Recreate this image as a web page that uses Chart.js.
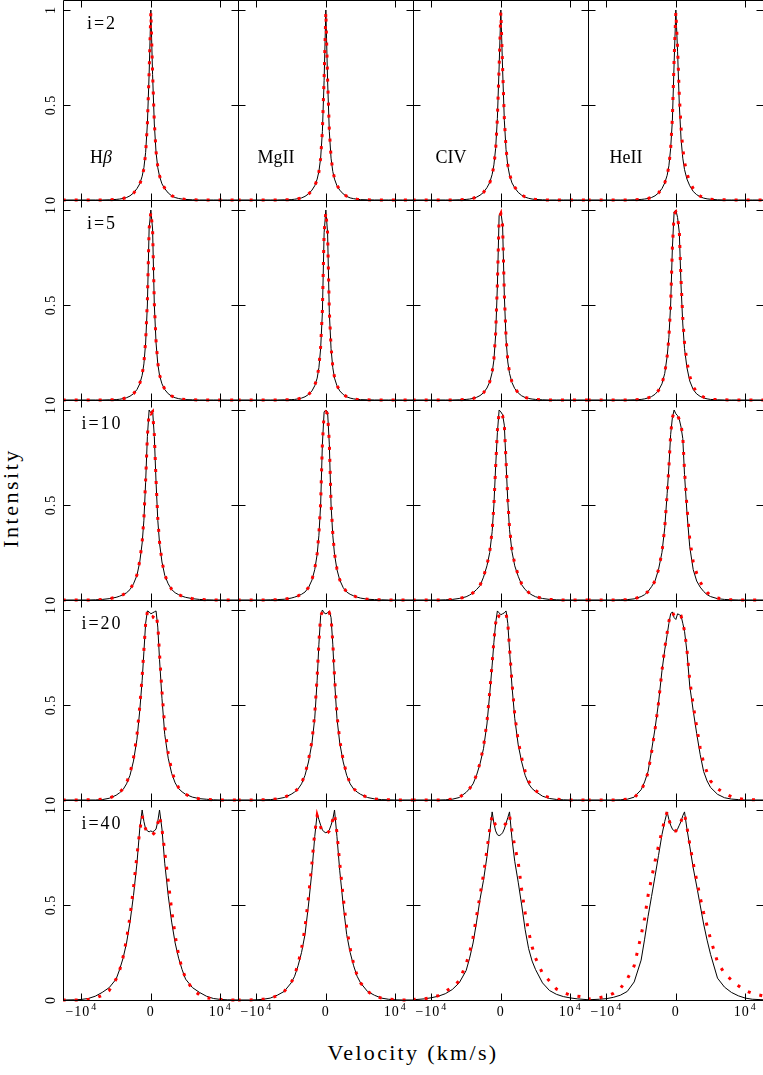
<!DOCTYPE html>
<html>
<head>
<meta charset="utf-8">
<script src="https://cdn.jsdelivr.net/npm/chart.js@4.4.1/dist/chart.umd.min.js"></script>
<style>
  body { margin:0; background:#fff; width:763px; height:1075px; position:relative; overflow:hidden; font-family:"Liberation Serif", serif; color:#000; }
  canvas { position:absolute; }
  #ylab { position:absolute; left:11px; top:498px; transform:translate(-50%,-50%) rotate(-90deg); font-size:22px; letter-spacing:2.5px; white-space:nowrap; }
  #xlab { position:absolute; left:413px; top:1053px; transform:translate(-50%,-50%); font-size:22px; letter-spacing:2.3px; white-space:nowrap; }
</style>
</head>
<body>
<div id="ylab">Intensity</div>
<div id="xlab">Velocity (km/s)</div>
<script>
// velocity grid (km/s), shared by every panel
const V = [-12700,-11000,-10000,-9000,-8000,-7000,-6000,-5000,-4500,-4000,-3500,-3000,-2500,-2000,-1600,-1250,-1000,-750,-500,-250,0,250,500,750,1000,1250,1600,2000,2500,3000,3500,4000,4500,5000,6000,7000,8000,9000,10000,11000,12700]

const lines = ['H', 'MgII', 'CIV', 'HeII']
const incl = [2, 5, 10, 20, 40]
const xTicks = [-10000, 0, 10000]
const yTicks = [0, 0.5, 1]
const yTickText = ['0', '0.5', '1']

// i=2
const hb2  = [0,0,0,0,0,0,0.001,0.003,0.005,0.008,0.013,0.022,0.037,0.06,0.085,0.125,0.17,0.25,0.4,0.66,1.0,0.66,0.4,0.25,0.17,0.125,0.085,0.06,0.037,0.022,0.013,0.008,0.005,0.003,0.001,0,0,0,0,0,0]
const hb2r = [0,0,0,0,0,0,0.001,0.003,0.005,0.008,0.013,0.022,0.036,0.058,0.083,0.12,0.165,0.245,0.4,0.67,0.99,0.67,0.41,0.255,0.175,0.128,0.088,0.062,0.038,0.023,0.014,0.008,0.005,0.003,0.001,0,0,0,0,0,0]
const mg2  = [0,0,0,0,0,0,0.001,0.002,0.004,0.007,0.011,0.019,0.032,0.052,0.075,0.11,0.15,0.22,0.36,0.63,1.0,0.63,0.36,0.22,0.15,0.11,0.075,0.052,0.032,0.019,0.011,0.007,0.004,0.002,0.001,0,0,0,0,0,0]
const mg2r = [0,0,0,0,0,0,0.001,0.002,0.004,0.007,0.011,0.019,0.031,0.05,0.073,0.108,0.148,0.22,0.36,0.64,0.99,0.64,0.37,0.225,0.155,0.113,0.078,0.054,0.033,0.02,0.012,0.007,0.004,0.002,0.001,0,0,0,0,0,0]
const c2   = [0,0,0,0,0,0,0.001,0.003,0.005,0.009,0.015,0.025,0.04,0.065,0.092,0.135,0.185,0.27,0.43,0.7,1.0,0.69,0.42,0.265,0.18,0.132,0.09,0.064,0.04,0.025,0.015,0.009,0.005,0.003,0.001,0,0,0,0,0,0]
const c2r  = [0,0,0,0,0,0,0.001,0.003,0.005,0.009,0.015,0.025,0.04,0.064,0.09,0.132,0.182,0.265,0.43,0.7,0.99,0.7,0.43,0.27,0.185,0.137,0.095,0.068,0.043,0.027,0.016,0.01,0.006,0.003,0.001,0,0,0,0,0,0]
const he2  = [0,0,0,0,0,0,0.001,0.003,0.005,0.008,0.013,0.022,0.037,0.06,0.09,0.13,0.18,0.27,0.42,0.72,1.0,0.78,0.5,0.32,0.22,0.16,0.11,0.075,0.045,0.028,0.017,0.01,0.006,0.004,0.001,0,0,0,0,0,0]
const he2r = [0,0,0,0,0,0,0.001,0.003,0.005,0.008,0.013,0.022,0.037,0.06,0.09,0.13,0.18,0.27,0.43,0.74,0.99,0.8,0.55,0.38,0.27,0.2,0.14,0.095,0.06,0.035,0.02,0.012,0.007,0.004,0.002,0.001,0,0,0,0,0]

// i=5
const hb5  = [0,0,0,0,0,0,0.001,0.002,0.004,0.007,0.012,0.02,0.033,0.055,0.085,0.13,0.19,0.3,0.5,0.9,1.0,0.9,0.5,0.3,0.19,0.13,0.085,0.055,0.033,0.02,0.012,0.007,0.004,0.002,0.001,0,0,0,0,0,0]
const hb5r = [0,0,0,0,0,0,0.001,0.002,0.004,0.007,0.012,0.02,0.033,0.056,0.087,0.133,0.195,0.31,0.52,0.9,0.99,0.9,0.51,0.31,0.195,0.133,0.088,0.057,0.034,0.021,0.012,0.007,0.004,0.002,0.001,0,0,0,0,0,0]
const mg5  = [0,0,0,0,0,0,0.001,0.002,0.003,0.006,0.01,0.017,0.029,0.048,0.075,0.115,0.17,0.27,0.46,0.88,1.0,0.88,0.46,0.27,0.17,0.115,0.075,0.048,0.029,0.017,0.01,0.006,0.003,0.002,0.001,0,0,0,0,0,0]
const mg5r = [0,0,0,0,0,0,0.001,0.002,0.003,0.006,0.01,0.017,0.029,0.049,0.077,0.118,0.175,0.28,0.47,0.88,0.99,0.88,0.47,0.28,0.175,0.118,0.077,0.049,0.03,0.018,0.01,0.006,0.003,0.002,0.001,0,0,0,0,0,0]
const c5   = [0,0,0,0,0,0,0.001,0.003,0.005,0.008,0.014,0.023,0.038,0.063,0.095,0.145,0.21,0.34,0.6,0.97,0.99,0.92,0.55,0.32,0.2,0.14,0.092,0.06,0.037,0.022,0.013,0.008,0.005,0.003,0.001,0,0,0,0,0,0]
const c5r  = [0,0,0,0,0,0,0.001,0.003,0.005,0.008,0.014,0.023,0.038,0.063,0.096,0.147,0.215,0.35,0.61,0.96,0.98,0.92,0.56,0.33,0.205,0.145,0.095,0.062,0.038,0.023,0.014,0.008,0.005,0.003,0.001,0,0,0,0,0,0]
const he5  = [0,0,0,0,0,0,0.001,0.003,0.006,0.011,0.018,0.03,0.05,0.085,0.14,0.23,0.33,0.5,0.8,0.99,1.0,0.96,0.88,0.6,0.4,0.27,0.17,0.1,0.055,0.032,0.019,0.011,0.006,0.003,0.001,0,0,0,0,0,0]
const he5r = [0,0,0,0,0,0,0.001,0.003,0.006,0.011,0.018,0.03,0.05,0.085,0.14,0.23,0.33,0.5,0.8,0.98,0.99,0.96,0.89,0.63,0.43,0.3,0.2,0.125,0.07,0.042,0.025,0.015,0.008,0.004,0.002,0.001,0,0,0,0,0]

// i=10
const hb10  = [0,0,0,0,0.001,0.003,0.007,0.014,0.02,0.028,0.038,0.055,0.085,0.13,0.2,0.3,0.42,0.62,0.86,1.0,0.985,1.0,0.86,0.62,0.42,0.3,0.2,0.13,0.085,0.055,0.038,0.028,0.02,0.014,0.007,0.003,0.001,0,0,0,0]
const hb10r = [0,0,0,0,0.001,0.003,0.007,0.014,0.02,0.028,0.038,0.056,0.087,0.133,0.205,0.305,0.43,0.63,0.86,0.99,0.98,0.99,0.87,0.63,0.43,0.305,0.205,0.133,0.087,0.056,0.039,0.028,0.02,0.014,0.007,0.003,0.001,0,0,0,0]
const mg10  = [0,0,0,0,0.001,0.002,0.004,0.01,0.015,0.022,0.03,0.042,0.065,0.105,0.16,0.24,0.34,0.5,0.82,0.99,1.0,0.99,0.82,0.5,0.34,0.24,0.16,0.105,0.065,0.042,0.03,0.022,0.015,0.01,0.004,0.002,0.001,0,0,0,0]
const mg10r = [0,0,0,0,0.001,0.002,0.004,0.01,0.015,0.022,0.03,0.043,0.066,0.107,0.163,0.245,0.35,0.51,0.82,0.98,0.99,0.98,0.83,0.51,0.35,0.245,0.163,0.107,0.066,0.043,0.03,0.022,0.015,0.01,0.004,0.002,0.001,0,0,0,0]
const c10   = [0,0,0,0,0.001,0.003,0.008,0.017,0.026,0.038,0.055,0.075,0.12,0.18,0.25,0.36,0.5,0.7,0.88,1.0,0.99,0.975,0.92,0.72,0.52,0.37,0.255,0.18,0.125,0.08,0.055,0.038,0.026,0.017,0.008,0.003,0.001,0,0,0,0]
const c10r  = [0,0,0,0,0.001,0.003,0.008,0.017,0.026,0.038,0.055,0.077,0.122,0.183,0.255,0.365,0.5,0.7,0.89,0.99,0.98,0.97,0.92,0.73,0.53,0.38,0.265,0.19,0.13,0.085,0.058,0.04,0.027,0.018,0.008,0.003,0.001,0,0,0,0]
const he10  = [0,0,0,0,0.001,0.002,0.006,0.018,0.028,0.045,0.07,0.1,0.16,0.25,0.38,0.56,0.7,0.87,0.96,1.0,0.98,0.97,0.95,0.91,0.85,0.66,0.46,0.28,0.16,0.1,0.068,0.045,0.028,0.018,0.007,0.003,0.001,0,0,0,0]
const he10r = [0,0,0,0,0.001,0.002,0.006,0.018,0.028,0.045,0.07,0.1,0.16,0.25,0.38,0.56,0.7,0.87,0.96,0.99,0.98,0.97,0.95,0.92,0.86,0.68,0.49,0.32,0.2,0.14,0.095,0.065,0.04,0.025,0.01,0.004,0.001,0,0,0,0]

// i=20
const hb20  = [0,0,0,0,0,0.002,0.009,0.025,0.038,0.055,0.085,0.13,0.205,0.32,0.47,0.63,0.78,0.93,0.995,0.99,0.98,0.985,0.99,0.995,0.91,0.74,0.535,0.345,0.22,0.14,0.09,0.06,0.043,0.03,0.015,0.007,0.004,0.001,0,0,0]
const hb20r = [0,0,0,0.001,0.002,0.004,0.01,0.025,0.04,0.06,0.09,0.14,0.22,0.34,0.49,0.65,0.79,0.93,0.99,0.97,0.955,0.96,0.975,0.98,0.92,0.77,0.57,0.385,0.245,0.155,0.1,0.065,0.045,0.03,0.014,0.006,0.003,0.001,0,0,0]
const mg20  = [0,0,0,0.001,0.002,0.006,0.013,0.03,0.042,0.058,0.085,0.13,0.2,0.3,0.43,0.63,0.82,0.97,1.0,0.985,0.98,0.985,0.995,0.96,0.82,0.63,0.43,0.3,0.2,0.13,0.085,0.058,0.042,0.03,0.013,0.006,0.002,0.001,0,0,0]
const mg20r = [0,0,0,0.001,0.002,0.006,0.013,0.031,0.044,0.06,0.088,0.135,0.21,0.31,0.45,0.65,0.83,0.97,0.99,0.975,0.97,0.975,0.985,0.96,0.83,0.65,0.45,0.315,0.21,0.135,0.088,0.06,0.043,0.03,0.013,0.006,0.002,0.001,0,0,0]
const c20   = [0,0,0,0,0.001,0.004,0.013,0.04,0.06,0.085,0.13,0.19,0.27,0.4,0.56,0.71,0.83,0.93,0.995,0.985,0.975,0.98,0.985,0.995,0.93,0.79,0.6,0.43,0.29,0.2,0.13,0.085,0.06,0.045,0.02,0.008,0.003,0.001,0,0,0]
const c20r  = [0,0,0,0,0.001,0.004,0.013,0.04,0.06,0.087,0.133,0.195,0.28,0.41,0.57,0.72,0.84,0.93,0.98,0.965,0.96,0.96,0.97,0.98,0.93,0.8,0.62,0.45,0.31,0.22,0.15,0.1,0.07,0.05,0.025,0.012,0.005,0.002,0,0,0]
const he20  = [0,0,0,0,0.001,0.004,0.015,0.054,0.095,0.15,0.26,0.375,0.51,0.68,0.79,0.87,0.93,0.98,0.99,0.96,0.95,0.98,0.975,0.97,0.93,0.888,0.78,0.6,0.47,0.35,0.24,0.15,0.1,0.066,0.03,0.012,0.005,0.002,0,0,0]
const he20r = [0,0,0,0,0.001,0.004,0.012,0.05,0.09,0.145,0.25,0.37,0.51,0.68,0.8,0.88,0.94,0.98,0.99,0.97,0.96,0.97,0.975,0.97,0.93,0.89,0.79,0.63,0.5,0.385,0.275,0.195,0.145,0.1,0.06,0.035,0.018,0.008,0.003,0.001,0]

// i=40
const hb40  = [0,0.001,0.003,0.008,0.02,0.04,0.065,0.11,0.16,0.22,0.3,0.41,0.55,0.72,0.9,1.0,0.94,0.9,0.89,0.885,0.89,0.885,0.89,0.9,0.94,1.0,0.9,0.72,0.55,0.41,0.3,0.22,0.16,0.11,0.065,0.04,0.02,0.008,0.003,0.001,0]
const hb40r = [0,0,0.001,0.003,0.009,0.025,0.05,0.11,0.155,0.225,0.32,0.44,0.59,0.76,0.89,0.97,0.93,0.9,0.88,0.87,0.87,0.87,0.88,0.9,0.93,0.97,0.9,0.78,0.627,0.473,0.34,0.235,0.165,0.115,0.055,0.027,0.012,0.006,0.003,0.001,0]
const mg40  = [0,0,0.001,0.004,0.01,0.025,0.045,0.09,0.125,0.18,0.25,0.345,0.5,0.68,0.86,0.98,0.95,0.92,0.895,0.885,0.88,0.885,0.895,0.92,0.95,1.0,0.86,0.68,0.5,0.345,0.25,0.18,0.125,0.09,0.045,0.025,0.01,0.004,0.001,0,0]
const mg40r = [0,0,0.002,0.004,0.01,0.022,0.045,0.09,0.13,0.19,0.27,0.38,0.54,0.72,0.88,0.97,0.94,0.91,0.885,0.88,0.875,0.88,0.89,0.91,0.95,0.98,0.88,0.72,0.54,0.38,0.27,0.19,0.13,0.09,0.045,0.022,0.01,0.004,0.002,0,0]
const c40   = [0.001,0.006,0.012,0.02,0.033,0.055,0.09,0.155,0.22,0.3,0.41,0.53,0.63,0.755,0.88,0.99,0.93,0.89,0.87,0.865,0.87,0.88,0.9,0.93,0.96,0.99,0.85,0.73,0.62,0.5,0.37,0.27,0.205,0.16,0.09,0.05,0.03,0.018,0.011,0.006,0.001]
const c40r  = [0.003,0.007,0.012,0.023,0.044,0.068,0.1,0.19,0.25,0.33,0.44,0.55,0.66,0.79,0.9,0.97,0.94,0.92,0.915,0.915,0.915,0.915,0.92,0.93,0.95,0.97,0.89,0.81,0.725,0.58,0.46,0.36,0.28,0.22,0.14,0.1,0.058,0.04,0.025,0.02,0.012]
const he40  = [0.001,0.004,0.007,0.014,0.025,0.045,0.095,0.21,0.32,0.44,0.545,0.65,0.76,0.87,0.94,0.99,0.95,0.92,0.9,0.89,0.89,0.9,0.92,0.94,0.97,0.99,0.9,0.81,0.695,0.6,0.5,0.4,0.315,0.24,0.115,0.068,0.04,0.022,0.01,0.004,0.001]
const he40r = [0.005,0.012,0.02,0.035,0.06,0.11,0.18,0.34,0.43,0.55,0.64,0.73,0.81,0.89,0.95,0.99,0.95,0.92,0.9,0.89,0.89,0.9,0.92,0.94,0.97,0.98,0.91,0.82,0.72,0.63,0.54,0.46,0.39,0.32,0.2,0.14,0.105,0.075,0.05,0.035,0.02]

const black = [[hb2, mg2, c2, he2], [hb5, mg5, c5, he5], [hb10, mg10, c10, he10], [hb20, mg20, c20, he20], [hb40, mg40, c40, he40]]
const red = [[hb2r, mg2r, c2r, he2r], [hb5r, mg5r, c5r, he5r], [hb10r, mg10r, c10r, he10r], [hb20r, mg20r, c20r, he20r], [hb40r, mg40r, c40r, he40r]]

const PW = 175, PH = 200, X0 = 63, M = 30
const XMIN = -12650, XMAX = 12550, YMAX = 1.0526
const FONT = '"Liberation Serif", serif'

function pts(arr){
    return V.map((v, i) => ({x: v, y: arr[i]}))
}

function drawXLabel(ctx, x, y, v){
    ctx.textAlign = 'left'
    ctx.font = '14px ' + FONT
    if(v == 0){
        let w = ctx.measureText('0').width
        ctx.fillText('0', x - w/2, y)
        return
    }
    let base = v < 0 ? '\u221210' : '10'
    let w1 = ctx.measureText(base).width
    ctx.font = '10px ' + FONT
    let w2 = ctx.measureText('4').width
    let left = x - (w1 + w2 + 1)/2
    ctx.font = '14px ' + FONT
    ctx.fillText(base, left, y)
    ctx.font = '10px ' + FONT
    ctx.fillText('4', left + w1 + 1, y - 6)
}

const framePlugin = {
    id: 'frame',
    afterDatasetsDraw(chart){
        let ctx = chart.ctx, a = chart.chartArea
        let xs = chart.scales.x, ys = chart.scales.y
        let r = chart.options.plugins.frame.row, c = chart.options.plugins.frame.col
        ctx.save()
        ctx.strokeStyle = '#000'
        ctx.lineWidth = 1
        let L = a.left + 0.5, R = a.right + 0.5, T = a.top + 0.5, B = a.bottom + 0.5
        ctx.beginPath()
        ctx.rect(L, T, R - L, B - T)
        for(let t of xTicks){
            let px = Math.round(xs.getPixelForValue(t)) + 0.5
            ctx.moveTo(px, B); ctx.lineTo(px, B - 7)
            ctx.moveTo(px, T); ctx.lineTo(px, T + 7)
        }
        for(let t of yTicks){
            let py = Math.round(ys.getPixelForValue(t)) + 0.5
            ctx.moveTo(L, py); ctx.lineTo(L + 7, py)
            ctx.moveTo(R, py); ctx.lineTo(R - 7, py)
        }
        ctx.stroke()

        ctx.fillStyle = '#000'
        ctx.letterSpacing = '1px'
        // y tick labels on the left column only
        if(c == 0){
            ctx.font = '14px ' + FONT
            ctx.textAlign = 'center'
            ctx.textBaseline = 'alphabetic'
            yTicks.forEach((t, i) => {
                let py = ys.getPixelForValue(t)
                ctx.save()
                ctx.translate(a.left - 8, py)
                ctx.rotate(-Math.PI/2)
                ctx.fillText(yTickText[i], 0, 0)
                ctx.restore()
            })
            ctx.letterSpacing = '2px'
            ctx.font = '18px ' + FONT
            ctx.textAlign = 'center'
            ctx.fillText('i=' + incl[r], a.left + 39, a.top + 29)
            ctx.letterSpacing = '1px'
        }
        // velocity labels under the bottom row
        if(r == incl.length - 1){
            for(let t of xTicks){
                drawXLabel(ctx, xs.getPixelForValue(t), a.bottom + 16, t)
            }
        }
        // line names in the top row
        if(r == 0){
            ctx.letterSpacing = '0px'
            ctx.textAlign = 'left'
            ctx.font = '18px ' + FONT
            let name = lines[c]
            let w = ctx.measureText(name).width
            let wb = 0
            if(c == 0){
                ctx.font = 'italic 18px ' + FONT
                wb = ctx.measureText('\u03b2').width
                ctx.font = '18px ' + FONT
            }
            let x = a.left + 38 - (w + wb)/2
            ctx.fillText(name, x, a.top + 163)
            if(c == 0){
                ctx.font = 'italic 18px ' + FONT
                ctx.fillText('\u03b2', x + w, a.top + 163)
            }
        }
        ctx.restore()
    }
}

for(let r = 0; r < incl.length; r++){
    for(let c = 0; c < lines.length; c++){
        let cv = document.createElement('canvas')
        cv.width = PW + 2*M
        cv.height = PH + 2*M
        cv.style.left = (X0 + c*PW - M) + 'px'
        cv.style.top = (r*PH - M) + 'px'
        document.body.appendChild(cv)
        new Chart(cv, {
            type: 'line',
            data: {
                datasets: [{
                    data: pts(red[r][c]),
                    borderColor: '#ff0000',
                    borderWidth: 3,
                    borderDash: [3, 9],
                    pointRadius: 0,
                    tension: 0,
                    clip: {left: 0, top: 0, right: 0, bottom: 3}
                }, {
                    data: pts(black[r][c]),
                    borderColor: '#000000',
                    borderWidth: 1,
                    pointRadius: 0,
                    tension: 0,
                    clip: {left: 0, top: 0, right: 0, bottom: 1}
                }]
            },
            options: {
                responsive: false,
                animation: false,
                devicePixelRatio: 1,
                layout: {padding: M},
                plugins: {
                    legend: {display: false},
                    tooltip: {enabled: false},
                    frame: {row: r, col: c}
                },
                scales: {
                    x: {type: 'linear', display: false, min: XMIN, max: XMAX},
                    y: {type: 'linear', display: false, min: 0, max: YMAX}
                }
            },
            plugins: [framePlugin]
        })
    }
}
</script>
</body>
</html>
